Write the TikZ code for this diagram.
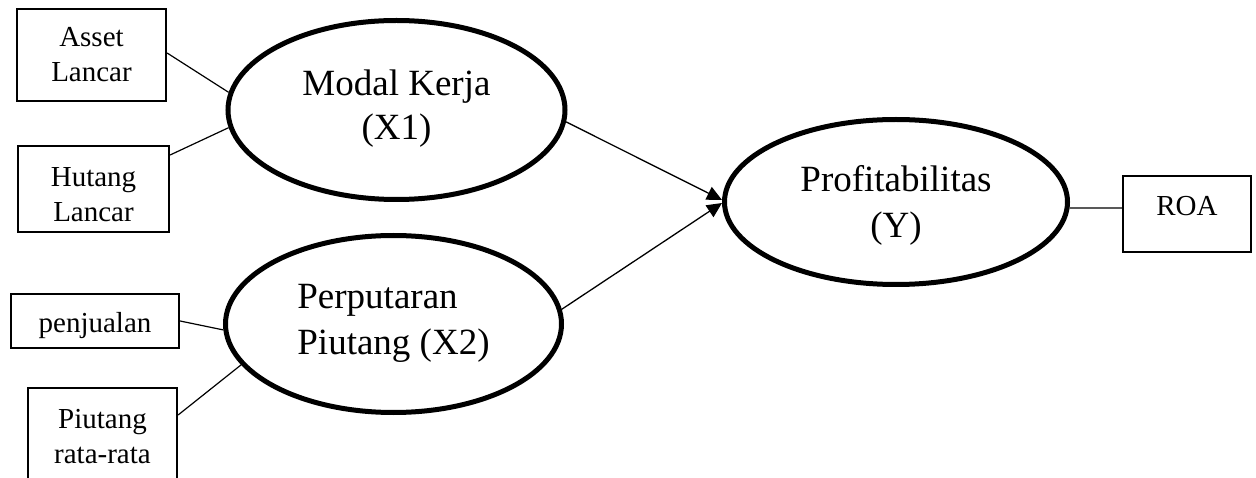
\documentclass[tikz,border=0pt]{standalone}
\usepackage{fontspec}
\setmainfont{Liberation Serif}
\usetikzlibrary{arrows.meta,shapes.geometric}
\begin{document}
\begin{tikzpicture}[x=1pt,y=-1pt,
  indbox/.style={draw, line width=2.2pt, inner sep=0pt, align=center,
    font=\fontsize{29}{35}\selectfont},
  latent/.style={draw, ellipse, line width=5pt, inner sep=0pt},
  link/.style={line width=1.2pt},
  arrowlink/.style={line width=1.3pt, -{Triangle[length=15pt,width=14pt]}}
]
\useasboundingbox (0,0) rectangle (1256,478);

% indicator boxes
\node[indbox, minimum width=149pt, minimum height=92pt, text height=54pt, text depth=0pt]
  (asset) at (91.5,55) {Asset\\Lancar};
\node[indbox, minimum width=151pt, minimum height=86pt, text height=66pt, text depth=0pt]
  (hutang) at (93.5,189) {Hutang\\Lancar};
\node[indbox, minimum width=168pt, minimum height=54pt, text height=30pt, text depth=6pt]
  (penj) at (95,321) {penjualan};
\node[indbox, minimum width=149pt, minimum height=94pt, text height=56pt, text depth=0pt]
  (piut) at (102.5,435) {Piutang\\rata-rata};
\node[indbox, minimum width=128pt, minimum height=76pt, text height=20pt, text depth=16pt]
  (roa) at (1187,214) {ROA};

% latent variables
\node[latent, minimum width=337pt, minimum height=179pt, align=center,
  font=\fontsize{37}{44}\selectfont, text height=68pt, text depth=8pt]
  (mk) at (396.5,110) {Modal Kerja\\(X1)};
\node[latent, minimum width=336pt, minimum height=177pt, align=left,
  font=\fontsize{37}{47}\selectfont, text height=70pt, text depth=8pt]
  (pp) at (393.5,324) {Perputaran\\Piutang (X2)};
\node[latent, minimum width=343pt, minimum height=165pt, align=center,
  font=\fontsize{37}{46}\selectfont, text height=80pt, text depth=8pt]
  (prof) at (896,202) {Profitabilitas\\(Y)};

% indicator links
\draw[link] ([yshift=2pt]asset.east) -- (mk.174);
\draw[link] ([yshift=34pt]hutang.east) -- (mk.186);
\draw[link] (penj.east) -- (pp.182);
\draw[link] ([yshift=20pt]piut.east) -- (pp.195);
\draw[link] (prof.-2) -- ([yshift=6pt]roa.west);

% structural paths
\draw[arrowlink] (mk.-4) -- ([yshift=2pt]prof.west);
\draw[arrowlink] (pp.5) -- ([yshift=-1pt]prof.west);
\end{tikzpicture}
\end{document}
